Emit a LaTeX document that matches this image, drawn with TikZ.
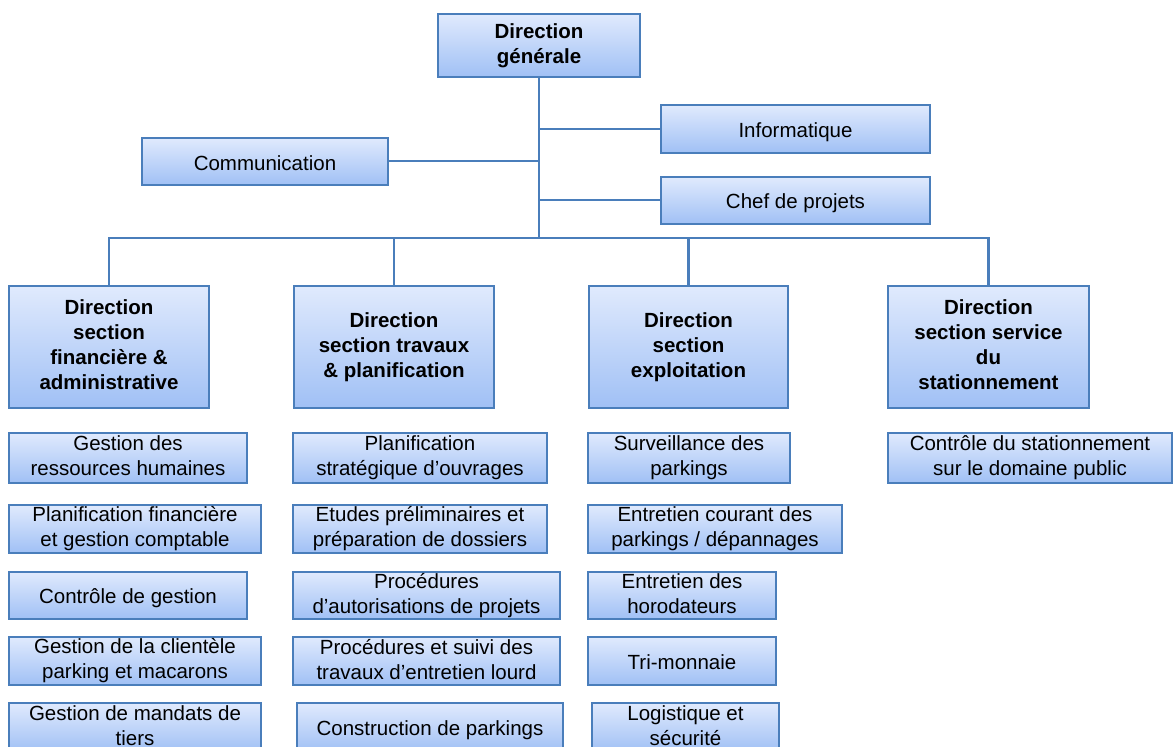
\documentclass[tikz,border=0pt]{standalone}
\usepackage{fontspec}
\setmainfont{Liberation Sans}
\definecolor{boxline}{RGB}{74,126,187}
\definecolor{boxtop}{RGB}{224,234,253}
\definecolor{boxbottom}{RGB}{160,192,245}
% struts that give every line block the same top and bottom room
\newcommand\nodetopstrut{\rule{0pt}{21pt}}
\newcommand\nodebotstrut{\rule[-4pt]{0pt}{4pt}}
\begin{document}
\begin{tikzpicture}[x=1pt,y=-1pt,
  orgbox/.style={rectangle, draw=boxline, line width=2pt,
    top color=boxtop, bottom color=boxbottom, inner sep=0pt,
    align=center, text=black,
    font=\fontsize{20.5}{25}\selectfont,
    execute at begin node=\nodetopstrut,
    execute at end node=\nodebotstrut},
  headbox/.style={orgbox, font=\fontsize{20.5}{25}\selectfont\bfseries},
  conn/.style={draw=boxline, line width=2.2pt}]
\useasboundingbox (0,0) rectangle (1173,747);
\fill[white] (0,0) rectangle (1173,747);
\clip (0,0) rectangle (1173,747);

% connectors (drawn first so the boxes sit on top of them)
\coordinate (bar) at (539,238);
\coordinate (trunk) at (539,77);
\coordinate (commend) at (388,161);
\coordinate (infoend) at (661,129);
\coordinate (chefend) at (661,200);
\draw[conn] (trunk) -- (bar);
\draw[conn] (commend) -- (commend -| trunk);
\draw[conn] (infoend) -- (infoend -| trunk);
\draw[conn] (chefend) -- (chefend -| trunk);

% top of the chart
\node[headbox, minimum width=202pt, minimum height=63pt] (dg) at (539,45.5) {Direction\\générale};
\node[orgbox, minimum width=269pt, minimum height=48pt] (info) at (795.5,129) {Informatique};
\node[orgbox, minimum width=269pt, minimum height=47pt] (chef) at (795.5,200.5) {Chef de projets};
\node[orgbox, minimum width=246pt, minimum height=47pt] (comm) at (265,161.5) {Communication};

% the four sections
\node[headbox, minimum width=200pt, minimum height=122pt] (d1) at (109,347) {Direction\\section\\financière \&\\administrative};
\node[headbox, minimum width=200pt, minimum height=122pt] (d2) at (394,347) {Direction\\section travaux\\\& planification};
\node[headbox, minimum width=199pt, minimum height=122pt] (d3) at (688.5,347) {Direction\\section\\exploitation};
\node[headbox, minimum width=201pt, minimum height=122pt] (d4) at (988.5,347) {Direction\\section service\\du\\stationnement};

\draw[conn] (d1.north) |- (bar);
\draw[conn] (d2.north) |- (bar);
\draw[conn] (d3.north) |- (bar);
\draw[conn] (d4.north) |- (bar);

% tasks of the financial and administrative section
\node[orgbox, minimum width=238pt, minimum height=50pt] (a1) at (128,458) {Gestion des\\ressources humaines};
\node[orgbox, minimum width=252pt, minimum height=48pt] (a2) at (135,529) {Planification financière\\et gestion comptable};
\node[orgbox, minimum width=238pt, minimum height=47pt] (a3) at (128,595.5) {Contrôle de gestion};
\node[orgbox, minimum width=252pt, minimum height=48pt] (a4) at (135,661) {Gestion de la clientèle\\parking et macarons};
\node[orgbox, minimum width=252pt, minimum height=49pt] (a5) at (135,727.5) {Gestion de mandats de\\tiers};

% tasks of the works and planning section
\node[orgbox, minimum width=254pt, minimum height=50pt] (b1) at (420,458) {Planification\\stratégique d’ouvrages};
\node[orgbox, minimum width=254pt, minimum height=48pt] (b2) at (420,529) {Etudes préliminaires et\\préparation de dossiers};
\node[orgbox, minimum width=267pt, minimum height=47pt] (b3) at (426.5,595.5) {Procédures\\d’autorisations de projets};
\node[orgbox, minimum width=267pt, minimum height=48pt] (b4) at (426.5,661) {Procédures et suivi des\\travaux d’entretien lourd};
\node[orgbox, minimum width=266pt, minimum height=49pt] (b5) at (430,727.5) {Construction de parkings};

% tasks of the operations section
\node[orgbox, minimum width=202pt, minimum height=50pt] (c1) at (689,458) {Surveillance des\\parkings};
\node[orgbox, minimum width=254pt, minimum height=48pt] (c2) at (715,529) {Entretien courant des\\parkings / dépannages};
\node[orgbox, minimum width=188pt, minimum height=47pt] (c3) at (682,595.5) {Entretien des\\horodateurs};
\node[orgbox, minimum width=188pt, minimum height=48pt] (c4) at (682,661) {Tri-monnaie};
\node[orgbox, minimum width=187pt, minimum height=49pt] (c5) at (685.5,727.5) {Logistique et\\sécurité};

% task of the parking service section
\node[orgbox, minimum width=284pt, minimum height=50pt] (e1) at (1030,458) {Contrôle du stationnement\\sur le domaine public};
\end{tikzpicture}
\end{document}
